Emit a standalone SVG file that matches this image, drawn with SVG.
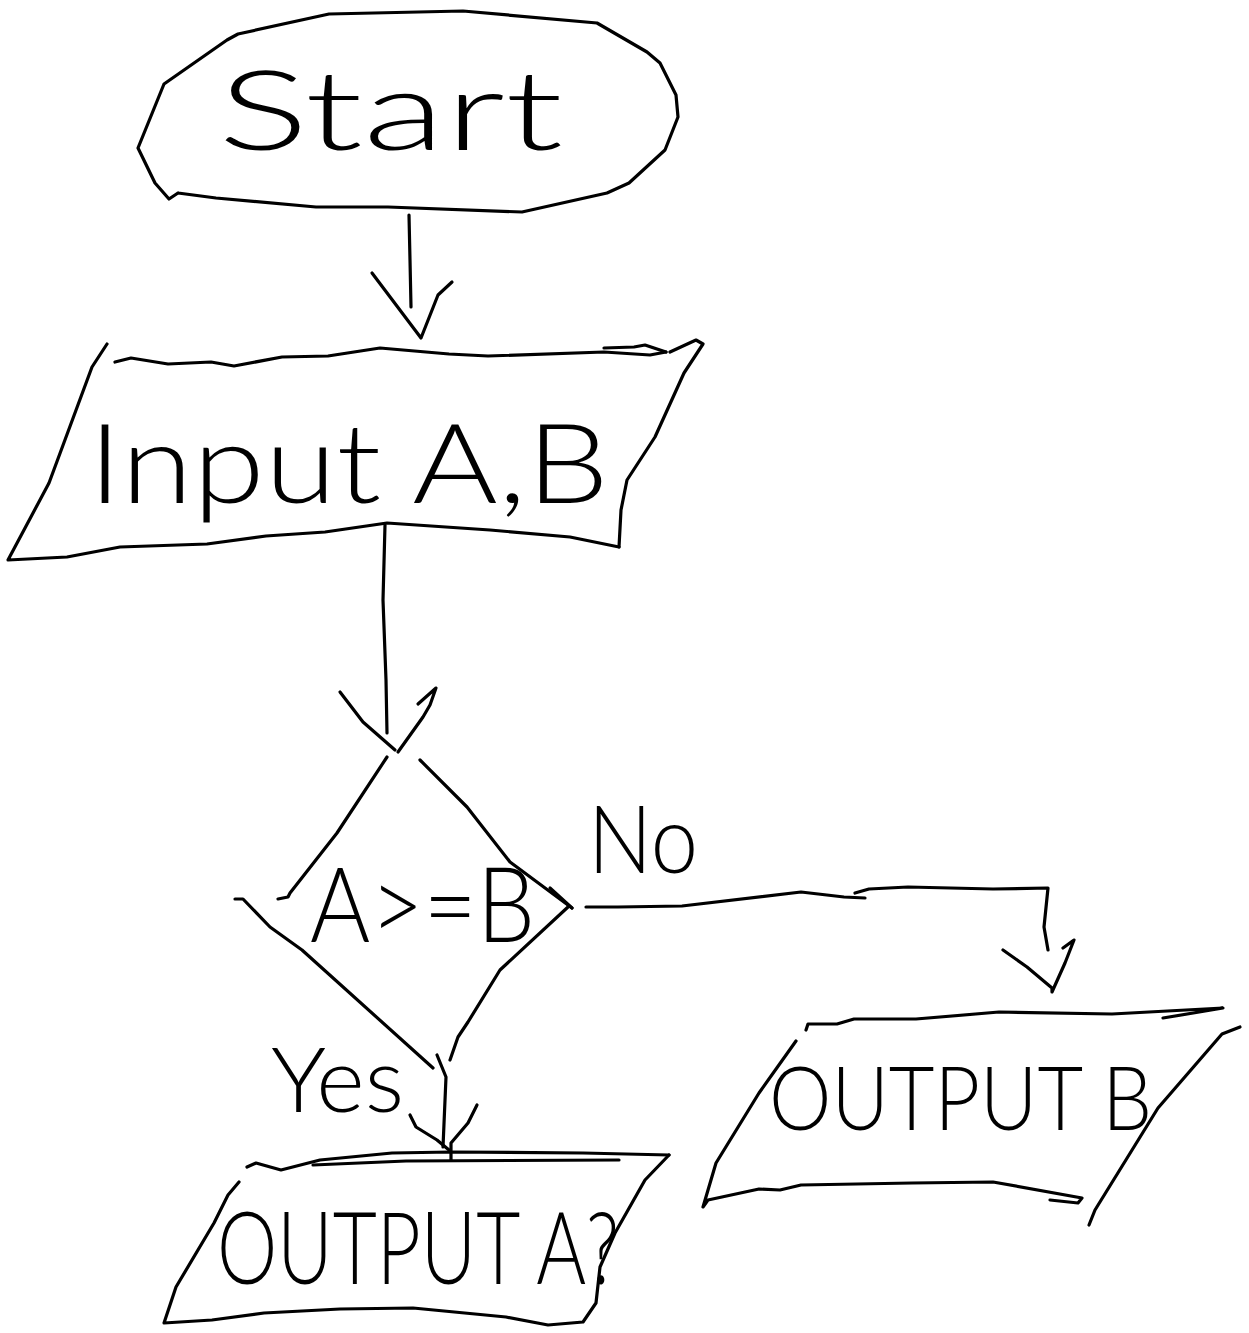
<svg xmlns="http://www.w3.org/2000/svg" width="1249" height="1333" viewBox="0 0 1249 1333">
<style>
.ln{fill:none;stroke:#000;stroke-width:3.2;stroke-linecap:round;stroke-linejoin:round}
.tx{font-family:"Lato","Liberation Sans",sans-serif;font-weight:300;fill:#000}
</style>
<rect width="1249" height="1333" fill="#fff"/>
<g id="start">
<polyline class="ln" points="178,193 169,199 155,183 138,148 164,84 227,40 238,34 329,14 463,11 597,23 647,52 660,63 676,95 678,117 665,150 629,183 607,193 522,212 388,207 316,207 216,198 178,193"/>
<text class="tx" x="218" y="150" font-size="110" textLength="345" lengthAdjust="spacingAndGlyphs">Start</text>
</g>
<g id="input">
<polyline class="ln" points="115,362 131,358 168,364 211,362 234,366 282,357 328,356 380,348 449,354 488,356 604,352 650,355 666,352"/>
<polyline class="ln" points="604,348 634,347 645,345 666,352"/>
<polyline class="ln" points="670,352 696,340 703,344 684,373 655,437 627,480 621,510 619,547"/>
<polyline class="ln" points="619,547 570,537 490,530 387,523 325,532 266,536 207,544 120,547 67,557 8,560 49,483 92,367 107,344"/>
<text class="tx" x="88" y="503" font-size="110" textLength="521" lengthAdjust="spacingAndGlyphs">Input A,B</text>
</g>
<g id="decision">
<polyline class="ln" points="387,757 337,833 290,893 288,897 278,899"/>
<polyline class="ln" points="235,899 243,899 270,927 302,950 433,1068"/>
<polyline class="ln" points="420,760 467,807 510,862 572,908"/>
<polyline class="ln" points="550,888 572,908"/>
<polyline class="ln" points="568,907 500,970 468,1022 458,1037 450,1060"/>
<text class="tx" x="310" y="942" font-size="105" textLength="225" lengthAdjust="spacingAndGlyphs">A&gt;=B</text>
</g>
<g id="outputB">
<polyline class="ln" points="806,1030 808,1024 837,1024 854,1019 916,1019 999,1012 1112,1014 1223,1008 1163,1018"/>
<polyline class="ln" points="1240,1027 1222,1034 1158,1108 1095,1210 1089,1225"/>
<polyline class="ln" points="796,1041 759,1093 716,1163 703,1207 708,1200 759,1189 780,1190 801,1185 912,1183 993,1182 1082,1198 1078,1203 1050,1200"/>
<text class="tx" x="769" y="1130" font-size="88" textLength="383" lengthAdjust="spacingAndGlyphs">OUTPUT B</text>
</g>
<g id="outputA">
<polyline class="ln" points="247,1167 256,1163 281,1170 320,1160 392,1153 451,1152 583,1153 669,1155"/>
<polyline class="ln" points="313,1165 406,1161 619,1160"/>
<polyline class="ln" points="669,1155 645,1180 615,1233 600,1267 596,1303 583,1322 548,1325 506,1317 413,1308 340,1309 264,1313 212,1320 164,1323 176,1287 214,1223 228,1195 239,1182"/>
<text class="tx" x="217" y="1284" font-size="100" textLength="402" lengthAdjust="spacingAndGlyphs">OUTPUT A?</text>
</g>
<g id="connectors">
<polyline class="ln" points="409,215 410,260 411,307"/>
<polyline class="ln" points="372,273 421,338 438,295 452,282"/>
<polyline class="ln" points="385,525 383,600 386,680 387,733"/>
<polyline class="ln" points="340,692 363,722 395,750"/>
<polyline class="ln" points="398,752 423,717 430,705 436,688 418,704"/>
<polyline class="ln" points="586,907 618,907 682,906 801,892 844,897 865,898"/>
<polyline class="ln" points="855,893 869,889 908,887 993,889 1048,888 1044,927 1048,950"/>
<polyline class="ln" points="1003,950 1027,967 1052,988 1052,992 1065,963 1074,940 1063,948"/>
<polyline class="ln" points="437,1055 446,1077 443,1147"/>
<polyline class="ln" points="410,1115 416,1127 437,1140 449,1150"/>
<polyline class="ln" points="477,1105 468,1123 451,1143 451,1160"/>
<text class="tx" x="588" y="873" font-size="95" textLength="110" lengthAdjust="spacingAndGlyphs">No</text>
<text class="tx" x="271" y="1112" font-size="90" textLength="133" lengthAdjust="spacingAndGlyphs">Yes</text>
</g>
</svg>
